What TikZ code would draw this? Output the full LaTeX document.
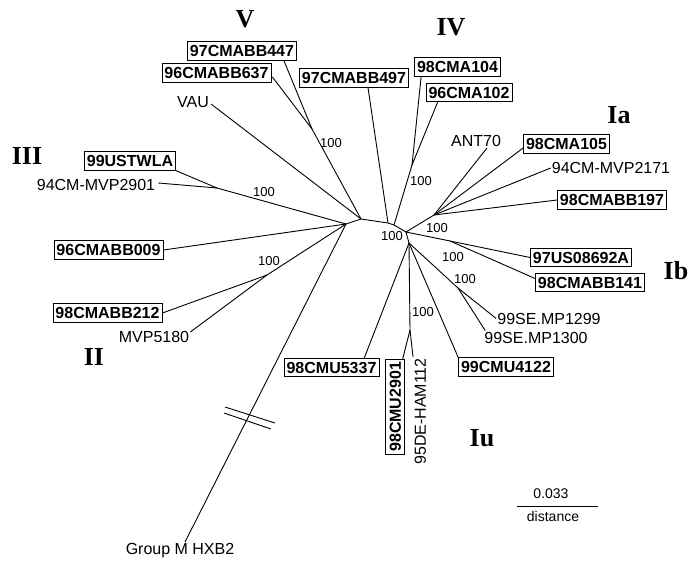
\documentclass[tikz,border=0pt]{standalone}
\usepackage{fontspec}
\setmainfont{Liberation Sans}
\newfontfamily\cladefont{Liberation Serif}
\usetikzlibrary{calc}
\begin{document}
\begin{tikzpicture}[x=1pt,y=-1pt,
  edge/.style={line width=0.9pt, line join=round},
  leafbox/.style={draw, line width=0.8pt, font=\fontsize{16}{18}\selectfont\bfseries, inner xsep=2.5pt, inner ysep=3.5pt, text height=11.5pt, text depth=0pt},
  leaf/.style={font=\fontsize{16}{18}\selectfont, inner sep=1pt, text height=11.5pt, text depth=0pt},
  boot/.style={font=\fontsize{13}{15}\selectfont, inner sep=0pt},
  clade/.style={font=\cladefont\fontsize{26}{28}\selectfont\bfseries, inner sep=0pt},
  scl/.style={font=\fontsize{14}{16}\selectfont, inner sep=0pt}
]
\useasboundingbox (0,0) rectangle (690,560);
\fill[white] (0,0) rectangle (690,560);

% internal nodes
\coordinate (A) at (346,224);
\coordinate (B) at (361,219);
\coordinate (C) at (388,223);
\coordinate (D) at (394,225);
\coordinate (E) at (406,232);
\coordinate (G) at (409,243);
\coordinate (jV) at (312,129);
\coordinate (jIV) at (412,165);
\coordinate (jIa) at (434,215);
\coordinate (jIb) at (450,241);
\coordinate (jSE) at (458,288);
\coordinate (jIu) at (410,330);
\coordinate (jIII) at (217,188);
\coordinate (jII) at (267,275);

% leaves
\node[leafbox] (b447) at (242,51) {97CMABB447};
\node[leafbox] (b637) at (216.5,73) {96CMABB637};
\node[leaf] (vau) at (193,102) {VAU};
\node[leafbox] (b497) at (354,78) {97CMABB497};
\node[leafbox] (a104) at (457.5,67) {98CMA104};
\node[leafbox] (a102) at (469,92.5) {96CMA102};
\node[leaf] (ant) at (476,141) {ANT70};
\node[leafbox] (a105) at (566.5,144) {98CMA105};
\node[leaf] (m2171) at (611,168) {94CM-MVP2171};
\node[leafbox] (b197) at (612,200) {98CMABB197};
\node[leafbox] (us) at (581,257.5) {97US08692A};
\node[leafbox] (b141) at (590,282.5) {98CMABB141};
\node[leaf] (mp1299) at (549,318.5) {99SE.MP1299};
\node[leaf] (mp1300) at (536,337.5) {99SE.MP1300};
\node[leafbox] (u4122) at (506,367) {99CMU4122};
\node[leafbox, rotate=90, anchor=east] (u2901) at (395,359) {98CMU2901};
\node[leaf, rotate=90, anchor=east] (ham) at (420,357) {95DE-HAM112};
\node[leafbox] (u5337) at (331.5,367.5) {98CMU5337};
\node[leaf] (hxb2) at (180,549) {Group M HXB2};
\node[leafbox] (b212) at (107.5,313) {98CMABB212};
\node[leaf] (m5180) at (154,337) {MVP5180};
\node[leafbox] (b009) at (108.5,250) {96CMABB009};
\node[leaf] (m2901) at (96,185) {94CM-MVP2901};
\node[leafbox] (twla) at (130,161) {99USTWLA};

% backbone
\draw[edge] (A) -- (B) -- (C) -- (D) -- (E) -- (G);

% V
\draw[edge] (B) -- (jV);
\draw[edge] (jV) -- ($(b447.south east)+(-13,0)$);
\draw[edge] (jV) -- ($(b637.east)+(1,4)$);
\draw[edge] (B) -- ($(vau.east)+(1,2)$);
% IV
\draw[edge] (C) -- ($(b497.south)+(14,0)$);
\draw[edge] (D) -- (jIV);
\draw[edge] (jIV) -- ($(a104.south west)+(7,0)$);
\draw[edge] (jIV) -- ($(a102.south west)+(12,0)$);
% Ia
\draw[edge] (E) -- (jIa);
\draw[edge] (jIa) -- ($(ant.south)+(11,0)$);
\draw[edge] (jIa) -- ($(a105.west)+(0,4)$);
\draw[edge] (jIa) -- (m2171.west);
\draw[edge] (jIa) -- (b197.west);
% Ib
\draw[edge] (E) -- (jIb) -- (us.west);
\draw[edge] (jIb) -- ($(b141.west)+(0,-4)$);
\draw[edge] (G) -- (jSE);
\draw[edge] (jSE) -- (mp1299.west);
\draw[edge] (jSE) -- ($(mp1300.north west)+(2,0)$);
% Iu
\draw[edge] (G) -- (u4122.north west);
\draw[edge] (G) -- ($(u5337.north east)+(-15,0)$);
\draw[edge] (G) -- (jIu);
\draw[edge] (jIu) -- ($(u2901.south east)+(-2,0)$);
\draw[edge] (jIu) -- (ham.north east);
% III, II, outgroup
\draw[edge] (A) -- (jIII);
\draw[edge] (jIII) -- (twla.south east);
\draw[edge] (jIII) -- ($(m2901.east)+(2,-2)$);
\draw[edge] (A) -- (b009.east);
\draw[edge] (A) -- (jII);
\draw[edge] (jII) -- (b212.east);
\draw[edge] (jII) -- ($(m5180.east)+(0,-5)$);
\draw[edge] (A) -- ($(hxb2.north)+(5,0)$);
% break marks
\draw[edge] (225,407) -- (275,423);
\draw[edge] (224,413) -- (271,429);

% bootstrap values
\node[boot] (bsV) at (331,143) {100};
\node[boot] (bsIII) at (264,192) {100};
\node[boot] (bsII) at (269,261) {100};
\node[boot] (bsIV) at (421,181) {100};
\node[boot] (bsC) at (392,236) {100};
\node[boot] (bsIa) at (437,228) {100};
\node[boot] (bsIb) at (453,257) {100};
\node[boot] (bsSE) at (465,279) {100};
\node[boot] (bsIu) at (423,312) {100};

% clade labels
\node[clade] (cV) at (245,19) {V};
\node[clade] (cIV) at (451,27) {IV};
\node[clade] (cIa) at (619,115) {Ia};
\node[clade] (cIII) at (27,156) {III};
\node[clade] (cIb) at (676,271) {Ib};
\node[clade] (cII) at (94,357) {II};
\node[clade] (cIu) at (482,438) {Iu};

% scale bar
\coordinate (s1) at (517,506);
\coordinate (s2) at (598,506);
\draw[line width=0.9pt] (s1) -- (s2);
\node[scl] (sv) at (551,494) {0.033};
\node[scl] (sd) at (553,516) {distance};
\end{tikzpicture}
\end{document}
